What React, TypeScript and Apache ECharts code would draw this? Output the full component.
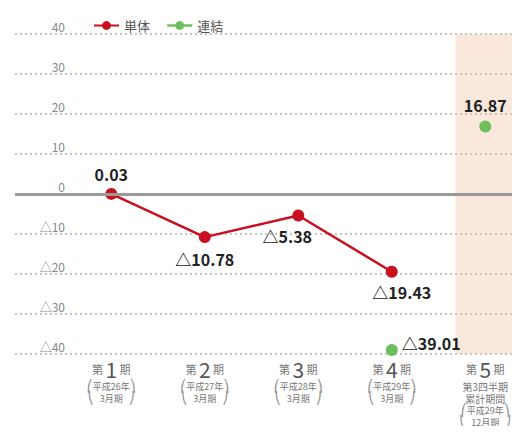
import React, { useEffect, useRef } from "react";
import * as echarts from "echarts";

const periodNumbers = ["1", "2", "3", "4", "5"];
const periodSubtitles = ["", "", "", "", "第3四半期\n累計期間"];
const periodYears = ["平成26年", "平成27年", "平成28年", "平成29年", "平成29年"];
const periodMonths = ["3月期", "3月期", "3月期", "3月期", "12月期"];
const tankaValues: (number | null)[] = [0.03, -10.78, -5.38, -19.43, null];
const renketsuValues: (number | null)[] = [null, null, null, -39.01, 16.87];
const seriesNames = ["単体", "連結"];
const yMin = -40;
const yMax = 40;
const yStep = 10;

// label placements (style, not data)
const tankaLabelPlace: any[] = [
  { position: "top", distance: 6, offset: [0, 0] },
  { position: "bottom", distance: 8, offset: [0, 0] },
  { position: "bottom", distance: 6, offset: [-11, 0] },
  { position: "bottom", distance: 6, offset: [10, 0] },
  null,
];
const renketsuLabelPlace: any[] = [
  null,
  null,
  null,
  { position: "right", distance: 4, offset: [0, -7] },
  { position: "top", distance: 8, offset: [0, 0] },
];

const RED = "#c8101e";
const GREEN = "#6cbf5c";
const FONT = "'Noto Sans CJK JP', 'Noto Sans', sans-serif";
const BR = "'DejaVu Sans', sans-serif";

const fmt = (v: number) => (v < 0 ? "△" + Math.abs(v).toFixed(2) : v.toFixed(2));

export default function App() {
  const ref = useRef<HTMLDivElement>(null);
  useEffect(() => {
    if (!ref.current) return;
    const chart = echarts.init(ref.current, null, { renderer: "svg" });
    const labelBase = {
      show: true,
      color: "#222",
      fontSize: 16,
      fontWeight: "bold" as const,
      fontFamily: FONT,
      formatter: (p: any) => fmt(p.value[1]),
    };
    const mk = (vals: (number | null)[], places: any[]) =>
      vals
        .map((v, i) =>
          v === null
            ? null
            : { value: [i, v], label: { ...labelBase, ...(places[i] || {}) } }
        )
        .filter((d) => d !== null);

    chart.setOption({
      animation: false,
      textStyle: { fontFamily: FONT },
      legend: {
        left: 88,
        top: 14,
        itemWidth: 25,
        itemHeight: 11,
        itemGap: 16,
        textStyle: { fontSize: 13, color: "#555", fontFamily: FONT },
        data: [
          { name: seriesNames[0] },
          { name: seriesNames[1], lineStyle: { opacity: 1, width: 2.5, color: GREEN } },
        ],
      },
      grid: { left: 15, right: 2, top: 34, bottom: 80 },
      xAxis: {
        type: "value",
        min: -1.03,
        max: 4.35,
        axisLine: { show: false },
        axisTick: { show: false },
        splitLine: { show: false },
        axisLabel: {
          customValues: [0, 1, 2, 3, 4],
          margin: 4,
          color: "#666",
          formatter: (v: number) => {
            const i = Math.round(v);
            const sub = periodSubtitles[i]
              ? periodSubtitles[i]
                  .split("\n")
                  .map((s) => `{t|${s}}`)
                  .join("\n") + "\n"
              : "";
            return (
              `{s|第 }{n|${periodNumbers[i]}}{s| 期}\n` +
              sub +
              `{b|⎛}{p|${periodYears[i]}}{b|⎞}\n{b|⎝}{p|   ${periodMonths[i]}   }{b|⎠}`
            );
          },
          rich: {
            s: { fontSize: 11, color: "#777", lineHeight: 22, fontFamily: FONT },
            n: { fontSize: 21, color: "#555", lineHeight: 22, fontFamily: FONT },
            t: { fontSize: 10, color: "#777", lineHeight: 12, fontFamily: FONT },
            p: { fontSize: 9, color: "#777", lineHeight: 12, fontFamily: FONT },
            b: { fontSize: 12, color: "#888", lineHeight: 12, fontFamily: BR },
          },
        },
      },
      yAxis: {
        type: "value",
        min: yMin,
        max: yMax,
        interval: yStep,
        axisLine: { show: false },
        axisTick: { show: false },
        splitLine: {
          show: true,
          lineStyle: { color: "#c4c4c4", width: 2, type: [2, 3] },
        },
        axisLabel: {
          inside: true,
          margin: 50,
          align: "right",
          verticalAlign: "bottom",
          padding: [0, 0, 2, 0],
          color: "#888",
          fontSize: 12,
          fontFamily: FONT,
          formatter: (v: number) => (v < 0 ? "△" + Math.abs(v) : String(v)),
        },
      },
      series: [
        {
          type: "line",
          name: "band",
          silent: true,
          data: [],
          markArea: {
            silent: true,
            itemStyle: { color: "rgba(240, 188, 158, 0.35)" },
            data: [[{ xAxis: 3.68, yAxis: yMax }, { xAxis: 4.35, yAxis: yMin }]],
          },
        },
        {
          type: "line",
          name: seriesNames[0],
          z: 3,
          data: mk(tankaValues, tankaLabelPlace),
          symbol: "circle",
          symbolSize: 12,
          itemStyle: { color: RED },
          lineStyle: { color: RED, width: 2.5 },
          markLine: {
            silent: true,
            symbol: ["none", "none"],
            label: { show: false },
            lineStyle: { color: "#9a9a9a", width: 3, type: "solid" },
            data: [{ yAxis: 0 }],
          },
        },
        {
          type: "line",
          name: seriesNames[1],
          z: 3,
          data: mk(renketsuValues, renketsuLabelPlace),
          symbol: "circle",
          symbolSize: 12,
          itemStyle: { color: GREEN },
          lineStyle: { color: GREEN, width: 2.5, opacity: 0 },
        },
      ],
    });
    return () => chart.dispose();
  }, []);
  return <div ref={ref} style={{ width: 520, height: 434, margin: -8 }} />;
}
